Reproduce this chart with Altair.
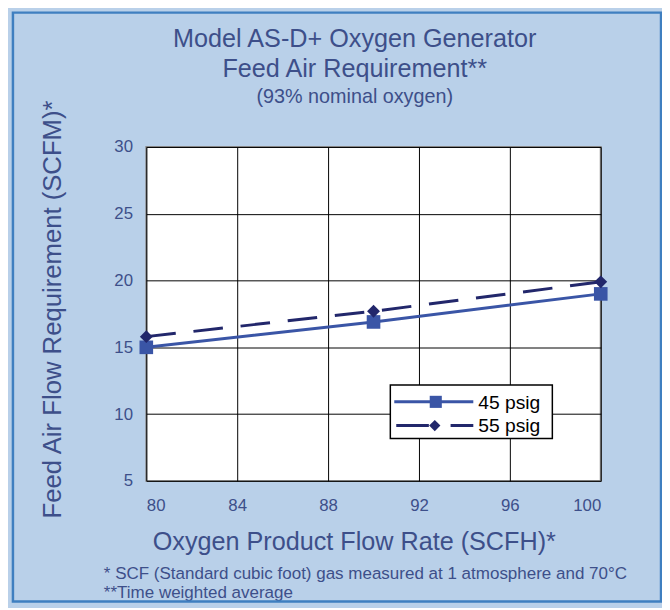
import altair as alt
import pandas as pd

# ---- data ----
oxygen_flow = [80, 90, 100]
feed_45 = [15.0, 16.9, 19.0]
feed_55 = [15.8, 17.7, 19.9]
series_names = ["45 psig", "55 psig"]
x_ticks = [80, 84, 88, 92, 96, 100]
y_ticks = [5, 10, 15, 20, 25, 30]
title_lines = ["Model AS-D+ Oxygen Generator", "Feed Air Requirement**"]
subtitle = "(93% nominal oxygen)"
footnotes = [
    "* SCF (Standard cubic foot) gas measured at 1 atmosphere and 70°C",
    "**Time weighted average",
]

df = pd.DataFrame({
    "oxygen": oxygen_flow * 2,
    "feed": feed_45 + feed_55,
    "series": [series_names[0]] * 3 + [series_names[1]] * 3,
})
one = pd.DataFrame({"a": [0]})

TXT = "#3d4f8a"
BG = "#b9d0e9"
C45 = "#3a55a6"
C55 = "#22276b"
FONT = "Liberation Sans"
W, H = 460, 338

x = alt.X(
    "oxygen:Q",
    scale=alt.Scale(domain=[80, 100], nice=False, zero=False),
    axis=alt.Axis(
        values=x_ticks, title="Oxygen Product Flow Rate (SCFH)*",
        grid=True, gridColor="black", gridWidth=1, ticks=False, domain=False,
        labelFontSize=17, labelColor=TXT, labelFont=FONT, labelPadding=17,
        titleFont=FONT, titleFontSize=25.5, titleFontWeight="normal", titleColor=TXT,
        titleX=210, titleY=61, titleBaseline="middle", titleAlign="center",
    ),
)
y = alt.Y(
    "feed:Q",
    scale=alt.Scale(domain=[5, 30], nice=False, zero=False),
    axis=alt.Axis(
        values=y_ticks, title="Feed Air Flow Requirement (SCFM)*",
        grid=True, gridColor="black", gridWidth=1, ticks=False, domain=False,
        labelFontSize=17, labelColor=TXT, labelFont=FONT, labelPadding=14,
        titleFont=FONT, titleFontSize=26, titleFontWeight="normal", titleColor=TXT,
        titleX=-95, titleY=H / 2 - 5, titleBaseline="middle", titleAlign="center", titleAngle=270,
    ),
)

base = alt.Chart(df).encode(x=x, y=y)
d45 = base.transform_filter(alt.datum.series == series_names[0])
d55 = base.transform_filter(alt.datum.series == series_names[1])

l45 = d45.mark_line(color=C45, strokeWidth=3)
p45 = d45.mark_point(shape="square", filled=True, size=190, color=C45, opacity=1)
l55 = d55.mark_line(color=C55, strokeWidth=3, strokeDash=[30, 18])
p55 = d55.mark_point(shape="diamond", filled=True, size=170, color=C55, opacity=1)

ann = alt.Chart(one)

def label(text, xv, yv, size, color=TXT, align="left", baseline="middle"):
    return ann.mark_text(text=text, align=align, baseline=baseline, fontSize=size,
                         font=FONT, color=color).encode(x=alt.value(xv), y=alt.value(yv))

# titles
t1 = label(title_lines[0], 211, -101, 25.5, align="center", baseline="alphabetic")
t2 = label(title_lines[1], 211, -71, 25.5, align="center", baseline="alphabetic")
t3 = label(subtitle, 211, -45, 20, align="center", baseline="alphabetic")

# legend
leg_box = ann.mark_rect(fill="white", stroke="black", strokeWidth=1.5).encode(
    x=alt.value(247), x2=alt.value(411), y=alt.value(241), y2=alt.value(295))
leg_l1 = ann.mark_rule(color=C45, strokeWidth=3).encode(
    x=alt.value(251), x2=alt.value(331), y=alt.value(258))
leg_p1 = ann.mark_point(shape="square", filled=True, size=150, color=C45, opacity=1).encode(
    x=alt.value(293), y=alt.value(258))
leg_t1 = label(series_names[0], 336, 259, 19.5, color="black")
leg_l2 = ann.mark_rule(color=C55, strokeWidth=3, strokeDash=[33, 22]).encode(
    x=alt.value(253), x2=alt.value(331), y=alt.value(282))
leg_p2 = ann.mark_point(shape="diamond", filled=True, size=130, color=C55, opacity=1).encode(
    x=alt.value(292), y=alt.value(282))
leg_t2 = label(series_names[1], 336, 283, 19.5, color="black")

# footnotes
fn1 = label(footnotes[0], -43, 432, 17.2)
fn2 = label(footnotes[1], -43, 452, 17.2)

# outer frame
frame = ann.mark_rect(fillOpacity=0, stroke="#3f7fc0", strokeWidth=2.5).encode(
    x=alt.value(-135), x2=alt.value(521), y=alt.value(-136), y2=alt.value(460))

chart = alt.layer(
    l45, p45, l55, p55,
    leg_box, leg_l1, leg_p1, leg_t1, leg_l2, leg_p2, leg_t2,
    t1, t2, t3, fn1, fn2, frame,
).properties(
    width=W, height=H,
    autosize=alt.AutoSizeParams(type="none"),
    padding={"left": 140, "top": 137, "right": 62, "bottom": 125},
).configure(background=BG).configure_view(fill="white", stroke="#8c8c8c", strokeWidth=2)

chart.save("out.html", embed_options={"renderer": "svg", "actions": False})
